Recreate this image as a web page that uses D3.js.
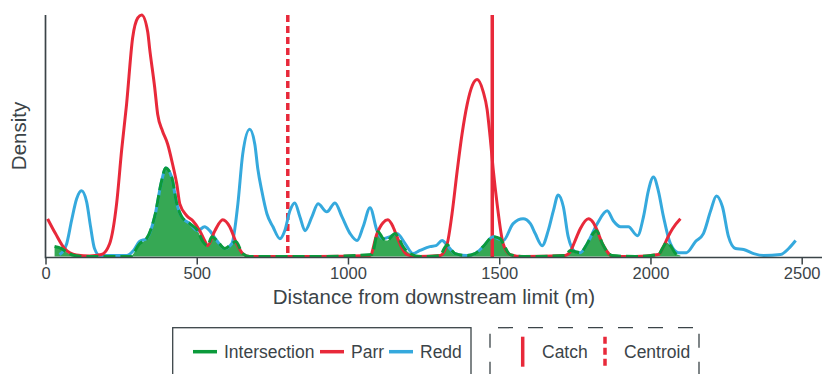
<!DOCTYPE html>
<html>
<head>
<meta charset="utf-8">
<script src="https://cdn.jsdelivr.net/npm/d3@7"></script>
<style>
  body { margin: 0; background: #fff; }
  svg text { font-family: "Liberation Sans", Arial, sans-serif; fill: #3b4448; }
</style>
</head>
<body>
<div id="chart"></div>
<script>
// density curves: [distance (m), density (relative)]
var parr = [[7,0.156],[33,0.095],[63,0.033],[102,0.006],[146,0.002],[185,0.008],[212,0.053],[235,0.218],[252,0.444],[268,0.63],[288,0.905],[305,0.988],[318,1.0],[338,0.93],[344,0.864],[361,0.70],[371,0.588],[387,0.519],[404,0.465],[420,0.383],[434,0.30],[444,0.218],[467,0.169],[487,0.148],[510,0.107],[526,0.066],[536,0.045],[560,0.107],[586,0.152],[609,0.123],[629,0.062],[652,0.012],[675,0],[900,0],[1073,0.004],[1096,0.095],[1116,0.14],[1132,0.152],[1149,0.123],[1162,0.082],[1179,0.033],[1195,0.008],[1230,0],[1305,0.004],[1328,0.053],[1344,0.177],[1361,0.354],[1377,0.506],[1394,0.63],[1411,0.708],[1427,0.733],[1447,0.683],[1460,0.609],[1470,0.494],[1480,0.362],[1493,0.218],[1513,0.053],[1536,0.008],[1580,0],[1718,0.004],[1735,0.02],[1751,0.066],[1768,0.115],[1795,0.156],[1811,0.14],[1824,0.107],[1841,0.053],[1857,0.02],[1874,0],[1950,0],[2026,0.008],[2043,0.041],[2060,0.086],[2073,0.115],[2099,0.156]];

var redd = [[46,0.008],[60,0.025],[70,0.053],[86,0.148],[103,0.239],[119,0.272],[136,0.226],[149,0.123],[162,0.033],[179,0.004],[268,0.004],[291,0.025],[311,0.062],[334,0.074],[361,0.165],[384,0.313],[397,0.366],[417,0.329],[434,0.218],[450,0.165],[477,0.136],[503,0.107],[526,0.123],[543,0.107],[566,0.066],[593,0.033],[616,0.053],[636,0.218],[652,0.424],[675,0.527],[692,0.465],[702,0.362],[715,0.272],[732,0.177],[752,0.123],[775,0.074],[791,0.107],[808,0.189],[824,0.222],[841,0.165],[858,0.107],[881,0.165],[901,0.218],[930,0.185],[957,0.222],[980,0.165],[1007,0.095],[1030,0.066],[1050,0.123],[1073,0.202],[1096,0.107],[1116,0.074],[1139,0.082],[1162,0.095],[1189,0.053],[1215,0.012],[1238,0.025],[1271,0.041],[1291,0.045],[1311,0.066],[1331,0.041],[1354,0.012],[1394,0.004],[1420,0.012],[1447,0.041],[1480,0.082],[1513,0.066],[1546,0.136],[1579,0.156],[1603,0.136],[1619,0.095],[1642,0.045],[1662,0.107],[1679,0.189],[1695,0.255],[1712,0.206],[1728,0.082],[1751,0.02],[1768,0.016],[1791,0.053],[1824,0.136],[1857,0.189],[1877,0.148],[1901,0.123],[1927,0.123],[1957,0.086],[1977,0.165],[1993,0.272],[2010,0.329],[2026,0.272],[2043,0.165],[2066,0.053],[2093,0.016],[2119,0.016],[2149,0.062],[2175,0.095],[2199,0.189],[2218,0.251],[2238,0.206],[2258,0.082],[2281,0.033],[2308,0.029],[2341,0.012],[2374,0.004],[2430,0.008],[2457,0.033],[2480,0.066]];

var intersection = [[30,0.041],[53,0.033],[73,0.016],[96,0.004],[130,0],[280,0],[311,0.053],[334,0.074],[361,0.165],[384,0.313],[397,0.366],[417,0.329],[434,0.218],[450,0.165],[477,0.136],[503,0.107],[520,0.062],[536,0.045],[550,0.082],[566,0.066],[593,0.033],[616,0.053],[629,0.062],[652,0.012],[675,0],[900,0],[1079,0.008],[1085,0.03],[1099,0.103],[1116,0.074],[1129,0.066],[1146,0.086],[1156,0.095],[1165,0.082],[1182,0.041],[1205,0.012],[1240,0],[1305,0.004],[1318,0.033],[1328,0.049],[1341,0.029],[1354,0.012],[1394,0.004],[1420,0.012],[1447,0.041],[1480,0.082],[1503,0.074],[1513,0.053],[1536,0.008],[1580,0],[1718,0.004],[1735,0.025],[1751,0.02],[1768,0.016],[1791,0.053],[1808,0.091],[1821,0.107],[1841,0.053],[1857,0.02],[1874,0.004],[1950,0],[2026,0.008],[2043,0.041],[2053,0.058],[2066,0.045],[2083,0.012],[2099,0.004]];

var catchPos = 1477;
var centroidPos = 801;
var xTicks = [0, 500, 1000, 1500, 2000, 2500];
var seriesNames = ['Intersection', 'Parr', 'Redd'];
var refNames = ['Catch', 'Centroid'];

var colRed = '#e8293a', colBlue = '#35a9dd', colGreen = '#0b9a3b', colFill = '#36a854';
var ink = '#3b4448';

var svg = d3.select('#chart').append('svg')
    .attr('width', 822)
    .attr('height', 374);

var x = d3.scaleLinear().domain([0, 2500]).range([45.5, 801.7]);
var y = d3.scaleLinear().domain([0, 1]).range([256.5, 15]);

var line = d3.line()
    .x(function (d) { return x(d[0]); })
    .y(function (d) { return y(d[1]); })
    .curve(d3.curveMonotoneX);

var area = d3.area()
    .x(function (d) { return x(d[0]); })
    .y0(y(0))
    .y1(function (d) { return y(d[1]); })
    .curve(d3.curveMonotoneX);

// shaded overlap
svg.append('path').datum(intersection)
    .attr('d', area)
    .attr('fill', colFill);

// reference lines
svg.append('line')
    .attr('x1', x(centroidPos)).attr('x2', x(centroidPos))
    .attr('y1', 15).attr('y2', 257)
    .attr('stroke', colRed).attr('stroke-width', 3.5)
    .attr('stroke-dasharray', '7,4');

svg.append('line')
    .attr('x1', x(catchPos)).attr('x2', x(catchPos))
    .attr('y1', 15).attr('y2', 257)
    .attr('stroke', colRed).attr('stroke-width', 3.5);

// density lines
svg.append('path').datum(redd)
    .attr('d', line)
    .attr('fill', 'none').attr('stroke', colBlue).attr('stroke-width', 3);

svg.append('path').datum(parr)
    .attr('d', line)
    .attr('fill', 'none').attr('stroke', colRed).attr('stroke-width', 3);

svg.append('path').datum(intersection)
    .attr('d', line)
    .attr('fill', 'none').attr('stroke', colGreen).attr('stroke-width', 3)
    .attr('stroke-dasharray', '12,5');

// axes
var xAxis = svg.append('g')
    .attr('transform', 'translate(0,257.5)')
    .call(d3.axisBottom(x).tickValues(xTicks).tickSize(7).tickPadding(3).tickFormat(d3.format('d')));
xAxis.select('.domain').attr('d', 'M45.5,0H822').attr('stroke', ink).attr('stroke-width', 1.7);
xAxis.selectAll('.tick line').attr('stroke', ink).attr('stroke-width', 1.5);
xAxis.selectAll('.tick text').attr('fill', ink).style('font-size', '16.5px')
    .style('font-family', '"Liberation Sans", Arial, sans-serif');

svg.append('line')
    .attr('x1', 45.5).attr('x2', 45.5).attr('y1', 15).attr('y2', 258.3)
    .attr('stroke', ink).attr('stroke-width', 1.7);

svg.append('text')
    .attr('x', 434).attr('y', 304)
    .attr('text-anchor', 'middle')
    .style('font-size', '20.5px')
    .text('Distance from downstream limit (m)');

svg.append('text')
    .attr('transform', 'translate(26,136) rotate(-90)')
    .attr('text-anchor', 'middle')
    .style('font-size', '20.5px')
    .text('Density');

// legend 1: density series
var lg1 = svg.append('g');
lg1.append('rect')
    .attr('x', 172.7).attr('y', 327.7).attr('width', 298.3).attr('height', 70)
    .attr('fill', 'none').attr('stroke', ink).attr('stroke-width', 1.3);
var keyCols = [colGreen, colRed, colBlue];
var keyX = [193, 320, 389];
var textX = [224, 351, 420];
seriesNames.forEach(function (name, i) {
    lg1.append('line')
        .attr('x1', keyX[i]).attr('x2', keyX[i] + 24)
        .attr('y1', 351.7).attr('y2', 351.7)
        .attr('stroke', keyCols[i]).attr('stroke-width', 3.5);
    lg1.append('text')
        .attr('x', textX[i]).attr('y', 358)
        .style('font-size', '17.5px')
        .text(name);
});

// legend 2: reference lines, dashed frame
var lg2 = svg.append('g');
lg2.append('line')
    .attr('x1', 490).attr('x2', 699).attr('y1', 327.7).attr('y2', 327.7)
    .attr('stroke', ink).attr('stroke-width', 1.3)
    .attr('stroke-dasharray', '15,15').attr('stroke-dashoffset', 22);
[490, 699].forEach(function (xx) {
    lg2.append('line')
        .attr('x1', xx).attr('x2', xx).attr('y1', 327.7).attr('y2', 400)
        .attr('stroke', ink).attr('stroke-width', 1.3)
        .attr('stroke-dasharray', '14,14').attr('stroke-dashoffset', 22);
});
var refX = [522.7, 605];
var refTextX = [542, 624];
refNames.forEach(function (name, i) {
    var k = lg2.append('line')
        .attr('x1', refX[i]).attr('x2', refX[i])
        .attr('y1', 336.7).attr('y2', 366.7)
        .attr('stroke', colRed).attr('stroke-width', 3.5);
    if (i === 1) k.attr('stroke-dasharray', '7,4');
    lg2.append('text')
        .attr('x', refTextX[i]).attr('y', 358)
        .style('font-size', '17.5px')
        .text(name);
});
</script>
</body>
</html>
